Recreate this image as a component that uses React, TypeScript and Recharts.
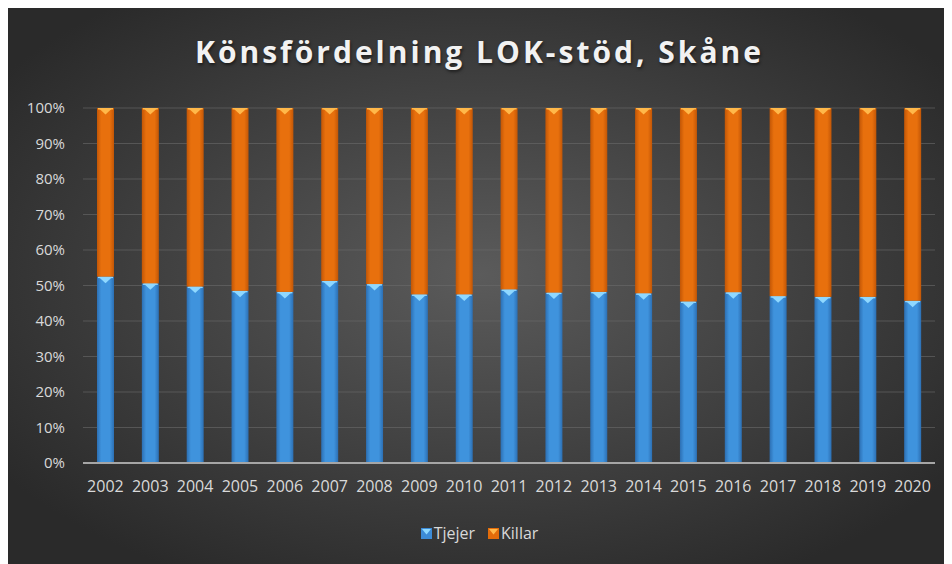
import { BarChart, Bar, XAxis, YAxis, CartesianGrid } from 'recharts';

const years = ['2002', '2003', '2004', '2005', '2006', '2007', '2008', '2009', '2010', '2011', '2012', '2013', '2014', '2015', '2016', '2017', '2018', '2019', '2020'];
const tjejer = [52.5, 50.6, 49.7, 48.5, 48.2, 51.3, 50.4, 47.5, 47.5, 48.9, 48.0, 48.2, 47.8, 45.5, 48.1, 47.0, 46.8, 46.8, 45.7];
const killar = [47.5, 49.4, 50.3, 51.5, 51.8, 48.7, 49.6, 52.5, 52.5, 51.1, 52.0, 51.8, 52.2, 54.5, 51.9, 53.0, 53.2, 53.2, 54.3];
const yTicks = [0, 10, 20, 30, 40, 50, 60, 70, 80, 90, 100];

const data = years.map((year, i) => ({ year, Tjejer: tjejer[i], Killar: killar[i] }));

const FONT = '"Open Sans", "Liberation Sans", sans-serif';

const makeShape = (gradId: string, tip: string) => (props: any) => {
  const { x, y, width, height } = props;
  if (!height || height <= 0) return null;
  return (
    <g>
      <rect x={x} y={y} width={width} height={height} fill={`url(#${gradId})`} />
      <rect x={x + 1} y={y} width={width - 2} height={1.5} fill={tip} />
      <polygon points={`${x + 1.5},${y} ${x + width - 1.5},${y} ${x + width / 2},${y + 6.5}`} fill={tip} />
    </g>
  );
};

const BlueShape = makeShape('gradBlue', '#8fd8ff');
const OrangeShape = makeShape('gradOrange', '#ffb84a');

const legendItems = [
  { name: 'Tjejer', base: '#3d8bd6', tip: '#8fd8ff' },
  { name: 'Killar', base: '#e36c0a', tip: '#ffb84a' },
];

const LegendContent = () => (
  <div style={{ display: 'flex', justifyContent: 'center', gap: 13, fontFamily: FONT, fontSize: 16, color: '#d9d9d9' }}>
    {legendItems.map((item) => (
      <span key={item.name} style={{ display: 'flex', alignItems: 'center' }}>
        <svg width={11} height={11} style={{ marginRight: 2 }}>
          <rect x={0} y={0} width={11} height={11} fill={item.base} />
          <polygon points="1,1 10,1 5.5,6.5" fill={item.tip} />
        </svg>
        {item.name}
      </span>
    ))}
  </div>
);

export default function App() {
  return (
    <div
      style={{
        position: 'relative',
        width: 945,
        height: 556,
        marginLeft: -1,
        background: 'radial-gradient(ellipse 62% 62% at 50% 48%, #5b5b5b 0%, #454545 45%, #2a2a2a 100%)',
      }}
    >
      <div
        style={{
          position: 'absolute',
          top: 23,
          left: 0,
          width: '100%',
          textAlign: 'center',
          fontFamily: FONT,
          fontWeight: 700,
          fontSize: 30,
          letterSpacing: 3,
          color: '#f2f2f2',
          textShadow: '1px 2px 3px rgba(0,0,0,0.5)',
        }}
      >
        Könsfördelning LOK-stöd, Skåne
      </div>
      <BarChart
        width={945}
        height={556}
        data={data}
        margin={{ top: 100, right: 17, left: 0, bottom: 0 }}
        barSize={17}
        style={{ position: 'absolute', top: 0, left: 0 }}
      >
        <defs>
          <linearGradient id="gradBlue" x1="0" y1="0" x2="1" y2="0">
            <stop offset="0%" stopColor="#2c6fb3" />
            <stop offset="25%" stopColor="#3f93dd" />
            <stop offset="75%" stopColor="#3f93dd" />
            <stop offset="100%" stopColor="#2c6fb3" />
          </linearGradient>
          <linearGradient id="gradOrange" x1="0" y1="0" x2="1" y2="0">
            <stop offset="0%" stopColor="#c25606" />
            <stop offset="25%" stopColor="#e8700d" />
            <stop offset="75%" stopColor="#e8700d" />
            <stop offset="100%" stopColor="#c25606" />
          </linearGradient>
        </defs>
        <CartesianGrid vertical={false} stroke="#6a6a6a" strokeOpacity={0.6} />
        <XAxis
          dataKey="year"
          axisLine={{ stroke: '#a6a6a6', strokeWidth: 2 }}
          tickLine={false}
          tickSize={0}
          tickMargin={18}
          height={101}
          tick={{ fill: '#d9d9d9', fontSize: 16, fontFamily: FONT }}
          interval={0}
        />
        <YAxis
          domain={[0, 100]}
          ticks={yTicks}
          tickFormatter={(v: number) => `${v}%`}
          axisLine={false}
          tickLine={false}
          tickSize={0}
          tickMargin={18}
          width={76}
          tick={{ fill: '#d9d9d9', fontSize: 15, fontFamily: FONT }}
        />
        <Bar dataKey="Tjejer" stackId="a" shape={BlueShape} isAnimationActive={false} />
        <Bar dataKey="Killar" stackId="a" shape={OrangeShape} isAnimationActive={false} />
      </BarChart>
      <div style={{ position: 'absolute', left: 0, width: '100%', top: 514 }}>
        <LegendContent />
      </div>
    </div>
  );
}
